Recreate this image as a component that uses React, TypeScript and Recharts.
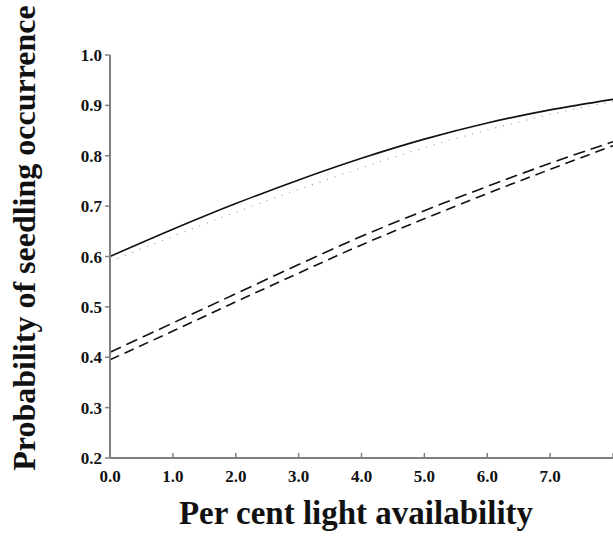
import React from "react";
import { LineChart, Line, XAxis, YAxis } from "recharts";

const lightValues = [0, 1, 2, 3, 4, 5, 6, 7, 8];
const solidSeries = [0.6, 0.654, 0.705, 0.752, 0.795, 0.833, 0.865, 0.891, 0.912];
const dottedSeries = [0.59, 0.64, 0.688, 0.733, 0.776, 0.816, 0.851, 0.882, 0.908];
const longDashSeries = [0.41, 0.468, 0.526, 0.584, 0.64, 0.691, 0.739, 0.785, 0.828];
const dashSeries = [0.395, 0.452, 0.51, 0.567, 0.623, 0.675, 0.725, 0.773, 0.82];

const xTicks = [0, 1, 2, 3, 4, 5, 6, 7, 8];
const xTickLabels = ["0.0", "1.0", "2.0", "3.0", "4.0", "5.0", "6.0", "7.0", ""];
const yTicks = [0.2, 0.3, 0.4, 0.5, 0.6, 0.7, 0.8, 0.9, 1.0];

const xTitle = "Per cent light availability";
const yTitle = "Probability of seedling occurrence";

const data = lightValues.map((x, i) => ({
  x,
  solid: solidSeries[i],
  dotted: dottedSeries[i],
  longDash: longDashSeries[i],
  dash: dashSeries[i],
}));

const FONT = '"Liberation Serif", "Times New Roman", serif';
const AXIS_COLOR = "#808080";

const XTick = (props: any) => {
  const { x, y, payload } = props;
  const idx = xTicks.indexOf(payload.value);
  const label = idx >= 0 ? xTickLabels[idx] : "";
  return (
    <g>
      <line x1={x} x2={x} y1={y} y2={y - 5} stroke={AXIS_COLOR} strokeWidth={1.5} />
      {label ? (
        <text
          x={x}
          y={y + 24}
          textAnchor="middle"
          fontFamily={FONT}
          fontWeight="bold"
          fontSize={17}
          fill="#111"
        >
          {label}
        </text>
      ) : null}
    </g>
  );
};

const renderYLabel = () => (
  <text
    x={35}
    y={238}
    transform="rotate(-90 35 238)"
    textAnchor="middle"
    fontFamily={FONT}
    fontWeight="bold"
    fontSize={32}
    fill="#111"
  >
    {yTitle}
  </text>
);

const renderXLabel = () => (
  <text
    x={356}
    y={524}
    textAnchor="middle"
    fontFamily={FONT}
    fontWeight="bold"
    fontSize={33}
    fill="#111"
  >
    {xTitle}
  </text>
);

export default function App() {
  return (
    <div style={{ position: "absolute", left: 0, top: 0, width: 613, height: 537, background: "#fff" }}>
      <LineChart
        width={613}
        height={537}
        data={data}
        margin={{ top: 55, right: 0, bottom: 0, left: 0 }}
      >
        <XAxis
          dataKey="x"
          type="number"
          domain={[0, 8]}
          ticks={xTicks}
          interval={0}
          height={79}
          tickSize={0}
          tickMargin={0}
          tickLine={false}
          axisLine={{ stroke: AXIS_COLOR, strokeWidth: 2 }}
          tick={<XTick />}
          label={renderXLabel}
        />
        <YAxis
          type="number"
          domain={[0.2, 1.0]}
          ticks={yTicks}
          interval={0}
          width={110}
          tickSize={5}
          tickMargin={3}
          tickFormatter={(v: number) => v.toFixed(1)}
          axisLine={{ stroke: AXIS_COLOR, strokeWidth: 2 }}
          tickLine={{ stroke: AXIS_COLOR, strokeWidth: 1.5 }}
          tick={{ fontFamily: FONT, fontWeight: "bold", fontSize: 17, fill: "#111" }}
          label={renderYLabel}
        />
        <Line
          dataKey="dotted"
          type="monotone"
          stroke="#9a9a9a"
          strokeWidth={1.2}
          strokeDasharray="1 7"
          dot={false}
          isAnimationActive={false}
        />
        <Line
          dataKey="solid"
          type="monotone"
          stroke="#111"
          strokeWidth={1.6}
          dot={false}
          isAnimationActive={false}
        />
        <Line
          dataKey="longDash"
          type="monotone"
          stroke="#111"
          strokeWidth={1.6}
          strokeDasharray="12 6"
          dot={false}
          isAnimationActive={false}
        />
        <Line
          dataKey="dash"
          type="monotone"
          stroke="#111"
          strokeWidth={1.6}
          strokeDasharray="10 6"
          dot={false}
          isAnimationActive={false}
        />
      </LineChart>
    </div>
  );
}
